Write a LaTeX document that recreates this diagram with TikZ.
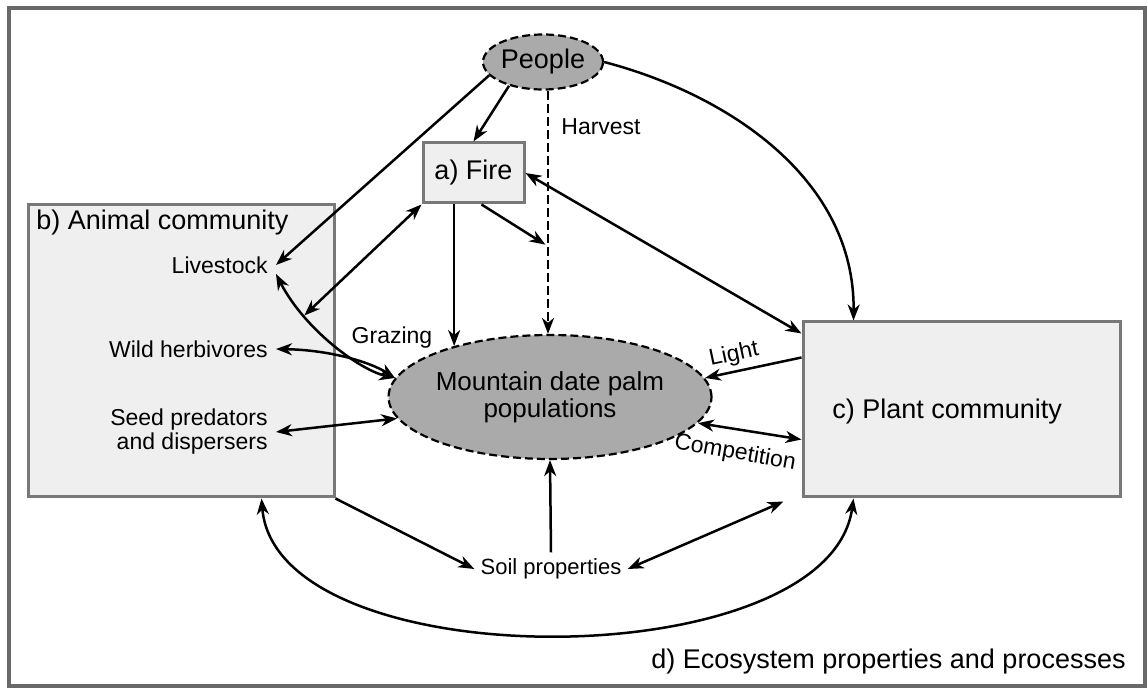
\documentclass[tikz,border=0pt]{standalone}
\usepackage{fontspec}
\setmainfont{Liberation Sans}
\definecolor{BoxGray}{RGB}{239, 239, 239}
\definecolor{EdgeGray}{RGB}{120, 120, 120}
\definecolor{FrameGray}{RGB}{105, 105, 105}
\definecolor{PalmGray}{RGB}{170, 170, 170}
\usetikzlibrary{arrows.meta, shapes.geometric}

\begin{document}
\begin{tikzpicture}[
        x=0.5pt, y=-0.5pt,
        % Styles
        bigtext/.style={font=\fontsize{13.5}{15}\selectfont},
        smalltext/.style={font=\fontsize{11.5}{12}\selectfont},
        block/.style={rectangle, draw=EdgeGray, line width=1.5pt, fill=BoxGray},
        blob/.style={ellipse, draw=black, line width=1.1pt, dash pattern=on 4pt off 2pt, fill=PalmGray, inner sep=0pt},
        itemtext/.style={smalltext, inner sep=4pt, align=right, anchor=east},
        line/.style={draw, line width=1.25pt, -{Stealth[length=8pt, width=6pt, inset=2.5pt]}},
        twoway/.style={line, {Stealth[length=8pt, width=6pt, inset=2.5pt]}-{Stealth[length=8pt, width=6pt, inset=2.5pt]}}
    ]
        \useasboundingbox (0,0) rectangle (1148,688);
        \draw[FrameGray, line width=2pt] (9,8) rectangle (1145,686);

        % Nodes
        \node[block, minimum width=153pt, minimum height=146pt] (animal) at (181,351) {};
        \node[block, minimum width=158.5pt, minimum height=87.5pt] (plant) at (961.5,409.5) {};
        \node[blob, bigtext, minimum width=60pt, minimum height=27.5pt] (people) at (543,62) {People};
        \node[block, bigtext, minimum width=50.5pt, minimum height=30pt] (fire) at (473.5,173) {a) Fire};
        \node[blob, minimum width=137pt, minimum height=62pt, align=center, font=\fontsize{13}{13.5}\selectfont] (palm) at (550,397) {Mountain date palm\\populations};

        \node[bigtext, anchor=west, inner sep=0pt] (animaltitle) at (36,223) {b) Animal community};
        \node[bigtext, anchor=west, inner sep=0pt] (planttitle) at (832,412) {c) Plant community};
        \node[bigtext, anchor=east, inner sep=0pt] (ecosystem) at (1126,662) {d) Ecosystem properties and processes};

        \node[itemtext] (livestock) at (276,265) {Livestock};
        \node[itemtext] (wildherb) at (276,349) {Wild herbivores};
        \node[itemtext] (seed) at (276,432) {Seed predators\\and dispersers};
        \node[smalltext] (grazing) at (392,338) {Grazing};
        \node[smalltext, anchor=west, inner sep=0pt] (harvest) at (561,127) {Harvest};
        \node[font=\fontsize{11}{12}\selectfont, inner sep=3pt] (soil) at (551,569) {Soil properties};
        \node[smalltext, rotate=12] (light) at (734,355) {Light};
        \node[smalltext, rotate=-10] (competition) at (735,453) {Competition};

        % Paths
        \coordinate (hv) at (548,0);
        \path[line, dash pattern=on 4.5pt off 2pt] (people.south -| hv) -- coordinate[pos=0.64] (hvfire) (palm.north -| hv);
        \path[line] (people.194) -- (livestock.east);
        \path[line] (people.215) -- (fire.north);
        \path[line] (people.east) .. controls (730,95) and (855,180) .. ([xshift=26pt]plant.north west);

        \path[twoway] ([yshift=-4.5pt]livestock.east) .. controls (305,330) and (360,370) .. coordinate[pos=0.27] (lsmid) (palm.173);
        \path[twoway] (wildherb.east) .. controls (330,350) and (370,362) .. (palm.173);
        \path[twoway] (seed.east) -- (palm.188);

        \path[twoway] (fire.south west) -- (lsmid);
        \path[line] (fire.south -| palm.152) -- (palm.152);
        \path[line, shorten >=1.5pt] ([xshift=4pt]fire.south) -- (hvfire);
        \path[twoway] ([yshift=-6.5pt]plant.north west) -- (fire.east);

        \path[line] ([yshift=26pt]plant.west) -- (palm.7);
        \path[twoway] (palm.-10) -- ([yshift=-15pt]plant.west);

        \path[line] (animal.south east) -- (soil.west);
        \path[line] (soil.north) -- (palm.south);
        \path[twoway] (soil.east) -- ([xshift=-9pt, yshift=-1.5pt]plant.south west);
        \path[twoway] ([xshift=-37pt]animal.south east) .. controls +(15,182) and +(-25,180) .. ([xshift=26pt]plant.south west);
    \end{tikzpicture}
\end{document}
